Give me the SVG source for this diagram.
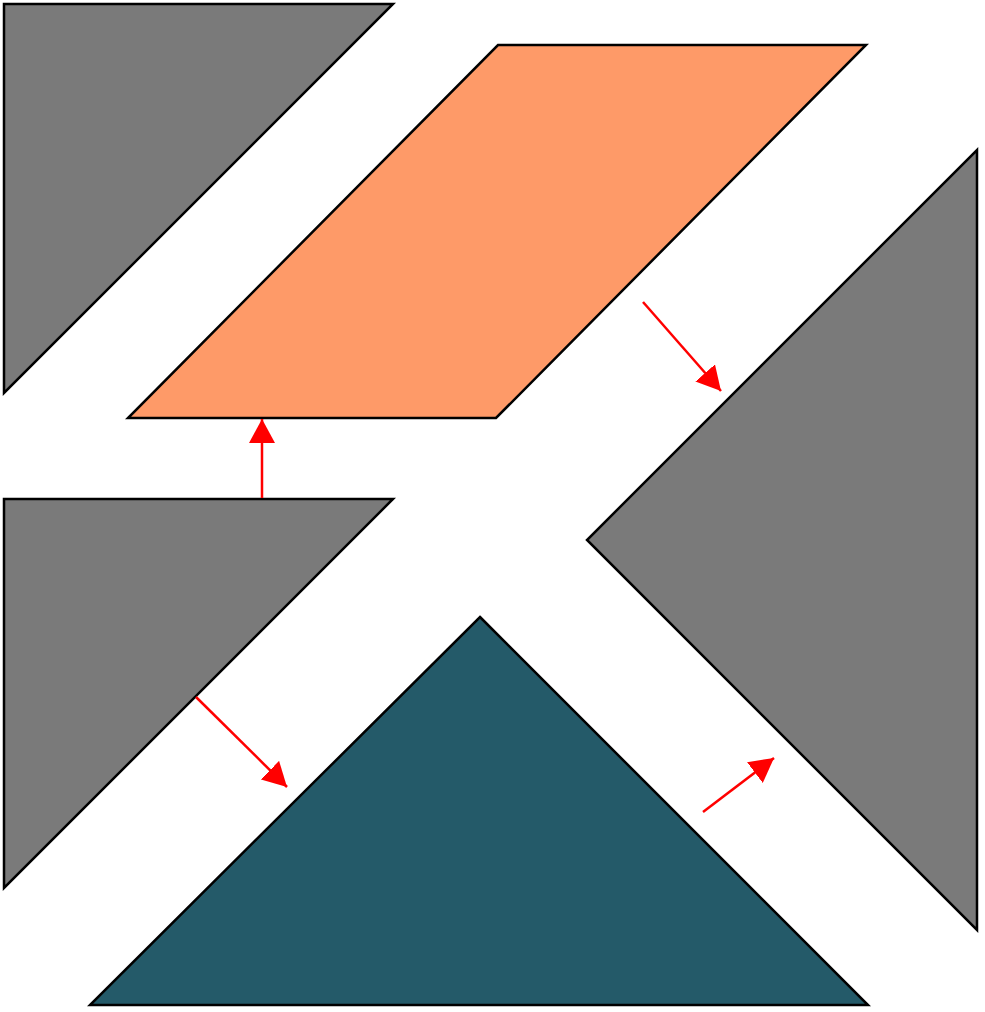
<svg xmlns="http://www.w3.org/2000/svg" width="985" height="1012" viewBox="0 0 985 1012">
<style>
.shape{stroke:#000;stroke-width:2.5;stroke-linejoin:miter}
.gray{fill:#7a7a7a}
.orange{fill:#fe9a68}
.teal{fill:#245a69}
.arrow{stroke:#f00;stroke-width:2.5;fill:none}
</style>
<defs>
<marker id="ah" markerUnits="userSpaceOnUse" markerWidth="26" markerHeight="26" refX="24" refY="13" orient="auto" viewBox="0 0 26 26">
<path d="M0,0 L24,13 L0,26 Z" fill="#f00"/>
</marker>
</defs>
<rect width="985" height="1012" fill="#fff"/>
<g id="tri-top-left"><polygon class="shape gray" points="4,4 393,4 4,393"/></g>
<g id="parallelogram"><polygon class="shape orange" points="498,45 866,45 496,418 128,418"/></g>
<g id="tri-right"><polygon class="shape gray" points="977,150 977,930 587,540"/></g>
<g id="tri-mid-left"><polygon class="shape gray" points="4,499 393,499 4,888"/></g>
<g id="tri-bottom"><polygon class="shape teal" points="480,617 868,1005 90,1005"/></g>
<g id="connectors">
<line class="arrow" x1="262" y1="498" x2="262" y2="419" marker-end="url(#ah)"/>
<line class="arrow" x1="643" y1="302" x2="721" y2="391" marker-end="url(#ah)"/>
<line class="arrow" x1="196" y1="697" x2="287" y2="787" marker-end="url(#ah)"/>
<line class="arrow" x1="703" y1="812" x2="774" y2="758" marker-end="url(#ah)"/>
</g>
</svg>
